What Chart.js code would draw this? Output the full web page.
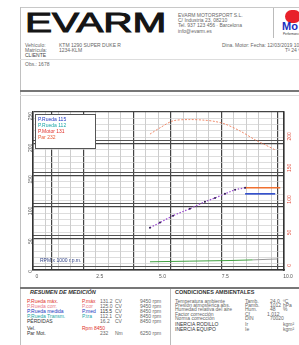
<!DOCTYPE html>
<html><head><meta charset="utf-8">
<script src="https://cdn.jsdelivr.net/npm/chart.js@4.4.1/dist/chart.umd.min.js"></script>
<style>
html,body{margin:0;padding:0;background:#fff;width:299px;height:345px;overflow:hidden;font-family:"Liberation Sans",Arial,sans-serif;}
.a{position:absolute;white-space:nowrap;font-size:5px;line-height:5px;color:#666;}
.l{position:absolute;}
#wrap{position:absolute;left:20px;top:96px;width:279px;height:190px;}
</style></head><body>
<div class="l" style="left:20px;top:7px;width:279px;height:1px;background:#c8c8c8"></div>
<div class="l" style="left:20px;top:7px;width:1px;height:338px;background:#c0c0c0"></div>
<div class="a" style="left:25px;top:9px;font-size:28px;line-height:28px;font-weight:normal;color:#151515;transform:scaleX(1.45);transform-origin:0 0;-webkit-text-stroke:1px #151515">EVARM</div>
<div class="a" style="left:178px;top:13px">EVARM MOTORSPORT S.L.</div>
<div class="a" style="left:178px;top:18px">C/ Industria 23, 08210</div>
<div class="a" style="left:178px;top:23px">Tel. 937 123 456 · Barcelona</div>
<div class="a" style="left:178px;top:29px">info@evarm.es</div>
<div class="l" style="left:273px;top:8px;width:1px;height:30px;background:#bbb"></div>
<div class="l" style="left:285px;top:10px;width:16px;height:13px;background:#e8202a;border-radius:7px"></div>
<div class="a" style="left:282px;top:21px;font-size:11px;line-height:11px;font-weight:bold;color:#1a2fc0">Mo</div>
<div class="a" style="left:283px;top:33px;font-size:3px;line-height:3px;color:#333">Performance</div>
<div class="a" style="left:25px;top:43px">Vehículo:</div>
<div class="a" style="left:59px;top:43px">KTM 1290 SUPER DUKE R</div>
<div class="a" style="left:25px;top:48px">Matrícula:</div>
<div class="a" style="left:59px;top:48px">1234-KLM</div>
<div class="a" style="left:25px;top:53px;color:#444">CLIENTE</div>
<div class="a" style="left:222px;top:43px">Dina. Motor: Fecha: 12/03/2019 10:3</div>
<div class="a" style="left:285px;top:48px">Tª 24 ºC</div>
<div class="l" style="left:20px;top:59px;width:279px;height:1px;background:#ddd"></div>
<div class="a" style="left:25px;top:62px">Obs.: 1678</div>
<div class="l" style="left:20px;top:90px;width:279px;height:2px;background:#777"></div>
<div class="l" style="left:20px;top:95px;width:279px;height:1px;background:#ddd"></div>

<div id="wrap"><canvas id="c" width="279" height="190"></canvas></div>

<div class="l" style="left:35px;top:114px;width:59px;height:33px;background:#fff;border:1px solid #555"></div>
<div class="a" style="left:38px;top:117px;color:#2036c0">P.Rueda  115</div>
<div class="a" style="left:38px;top:123px;color:#1aa6a6">P.Rueda  112</div>
<div class="a" style="left:38px;top:129px;color:#e0302a">P.Motor  131</div>
<div class="a" style="left:38px;top:135px;color:#e8603a">Par  232</div>
<div class="a" style="left:40px;top:258px;color:#334488">RPM x 1000 r.p.m.</div>

<div class="l" style="left:20px;top:287px;width:279px;height:2px;background:#777"></div>
<div class="l" style="left:170px;top:289px;width:1px;height:56px;background:#bbb"></div>
<div class="a" style="left:30px;top:290px;font-size:5.5px;font-weight:bold;font-style:italic;color:#333">RESUMEN DE MEDICIÓN</div>
<div class="a" style="left:175px;top:290px;font-size:5.5px;font-weight:bold;color:#333">CONDICIONES AMBIENTALES</div>

<div class="a" style="left:27px;top:299px;color:#e0302a">P.Rueda máx.</div>
<div class="a" style="left:27px;top:304px;color:#e87a8a">P.Rueda corr.</div>
<div class="a" style="left:27px;top:309px;color:#2036c0">P.Rueda medida</div>
<div class="a" style="left:27px;top:314px;color:#1aa6a6">P.Rueda Transm.</div>
<div class="a" style="left:27px;top:319px;color:#333">PÉRDIDAS</div>
<div class="a" style="left:27px;top:326px;color:#333">Vel.</div>
<div class="a" style="left:27px;top:331px;color:#333">Par Mot.</div>
<div class="a" style="left:82px;top:299px;color:#e0302a">P.máx</div>
<div class="a" style="left:82px;top:304px;color:#e87a8a">P.cor</div>
<div class="a" style="left:82px;top:309px;color:#2036c0">P.med</div>
<div class="a" style="left:82px;top:314px;color:#1aa6a6">P.tra</div>
<div class="a" style="left:82px;top:326px;color:#e0302a">Rpm 8450</div>
<div class="a" style="left:100px;top:299px">131.2</div>
<div class="a" style="left:100px;top:304px">125.0</div>
<div class="a" style="left:100px;top:309px;color:#333">115.5</div>
<div class="a" style="left:100px;top:314px">112.1</div>
<div class="a" style="left:100px;top:319px">16.2</div>
<div class="a" style="left:100px;top:331px">232</div>
<div class="a" style="left:115px;top:299px">CV</div>
<div class="a" style="left:115px;top:304px">CV</div>
<div class="a" style="left:115px;top:309px">CV</div>
<div class="a" style="left:115px;top:314px">CV</div>
<div class="a" style="left:115px;top:319px">CV</div>
<div class="a" style="left:115px;top:331px">Nm</div>
<div class="a" style="left:140px;top:299px">9450 rpm</div>
<div class="a" style="left:140px;top:304px">9450 rpm</div>
<div class="a" style="left:140px;top:309px">8450 rpm</div>
<div class="a" style="left:140px;top:314px">8450 rpm</div>
<div class="a" style="left:140px;top:319px">8450 rpm</div>
<div class="a" style="left:140px;top:331px">6250 rpm</div>

<div class="a" style="left:175px;top:299px">Temperatura ambiente</div>
<div class="a" style="left:175px;top:303px">Presión atmosférica abs.</div>
<div class="a" style="left:175px;top:307px">Humedad relativa del aire</div>
<div class="a" style="left:175px;top:312px">Factor corrección</div>
<div class="a" style="left:175px;top:316px">Norma corrección</div>
<div class="a" style="left:175px;top:322px;color:#333">INERCIA RODILLO</div>
<div class="a" style="left:175px;top:327px;color:#333">INERCIA EQUIPO</div>
<div class="a" style="left:245px;top:299px">Tamb.</div>
<div class="a" style="left:245px;top:303px">Pamb.</div>
<div class="a" style="left:245px;top:307px">Hum.</div>
<div class="a" style="left:245px;top:312px">Cf</div>
<div class="a" style="left:245px;top:316px">DIN</div>
<div class="a" style="left:245px;top:322px">Ir</div>
<div class="a" style="left:245px;top:327px">Ie</div>
<div class="a" style="left:270px;top:299px">24.0</div>
<div class="a" style="left:270px;top:303px">1012</div>
<div class="a" style="left:270px;top:307px">48</div>
<div class="a" style="left:267px;top:312px">1.012</div>
<div class="a" style="left:270px;top:316px">70020</div>
<div class="a" style="left:283px;top:299px">ºC</div>
<div class="a" style="left:283px;top:303px">hPa</div>
<div class="a" style="left:283px;top:307px">%</div>
<div class="a" style="left:283px;top:322px">kgm²</div>
<div class="a" style="left:283px;top:327px">kgm²</div>

<script>
// ---- data ----
const xTickLabels = ['0', '2.5', '5.0', '7.5', '10.0'];
const torqueRpm  = [4660, 5060, 5580, 6250, 6850, 7250, 7650, 8250, 8850, 9250, 9650];
const torqueVals = [210, 220, 231, 233, 232, 230, 226, 215, 201, 193, 185];
const powerRpm   = [4660, 5060, 5580, 6250, 6850, 7250, 7650, 8050, 8450];
const powerVals  = [62, 70, 81, 92, 103, 109, 115.5, 122, 125];
const maxPowerRpm  = [8450, 9850];
const maxPowerVals = [125, 125];
const wheelRpm  = [8450, 9650];
const wheelVals = [115.5, 115.5];
const lossRpm   = [4660, 6250, 7850, 8750];
const lossVals  = [8, 9, 10, 11];
const lossEndRpm  = [8750, 9750];
const lossEndVals = [11, 12.5];
const leftTickLabels  = ['0', '50', '100', '150', '200', '250'];
const rightTickLabels = ['0', '50', '100', '150', '200', '250'];

const pts = (xs, ys) => xs.map((x, i) => ({x, y: ys[i]}));
const darkX = [750, 2000, 4000, 5500, 7500, 9750];

new Chart(document.getElementById('c'), {
  type: 'line',
  data: { datasets: [
    {data: pts(torqueRpm, torqueVals), yAxisID: 'yP', borderColor: '#f08a6a', borderWidth: 1, borderDash: [2, 1.5], pointRadius: 0, tension: 0.3},
    {data: pts(powerRpm, powerVals), yAxisID: 'yP', borderColor: '#9a4ad0', borderWidth: 1.2, borderDash: [1.5, 1.5], pointRadius: 1, pointBackgroundColor: '#302050', pointBorderWidth: 0, tension: 0.2},
    {data: pts(maxPowerRpm, maxPowerVals), yAxisID: 'yP', borderColor: '#f07030', borderWidth: 1.5, pointRadius: 0},
    {data: pts(wheelRpm, wheelVals), yAxisID: 'yP', borderColor: '#2040c8', borderWidth: 1.5, pointRadius: 0},
    {data: pts(lossRpm, lossVals), yAxisID: 'yP', borderColor: '#40a040', borderWidth: 1, pointRadius: 0},
    {data: pts(lossEndRpm, lossEndVals), yAxisID: 'yP', borderColor: '#999', borderWidth: 1, pointRadius: 0}
  ]},
  options: {
    responsive: false, animation: false,
    layout: {padding: {top: 16, left: 0, right: 0, bottom: 0}},
    plugins: {legend: {display: false}, tooltip: {enabled: false}},
    scales: {
      x: {type: 'linear', min: 0, max: 10000,
        afterFit: s => { s.height = 16; },
        border: {color: '#333', width: 1.5},
        grid: {drawTicks: false,
          color: c => darkX.includes(c.tick.value) ? '#444' : (c.tick.value % 500 === 0 ? '#c0c0c0' : 'rgba(0,0,0,0)'),
          lineWidth: c => darkX.includes(c.tick.value) ? 1.2 : 0.8},
        ticks: {stepSize: 250, autoSkip: false, maxRotation: 0, padding: 4, labelOffset: 4, color: '#555', font: {size: 5},
          callback: v => v % 2500 === 0 ? xTickLabels[v / 2500] : ''}
      },
      yT: {position: 'left', min: 0, max: 250,
        afterFit: s => { s.width = 13; },
        border: {color: '#333', width: 1.5},
        grid: {drawTicks: false,
          color: c => c.tick.value % 50 === 0 ? '#444' : '#cfcfcf',
          lineWidth: c => c.tick.value % 50 === 0 ? 1.2 : 0.7},
        ticks: {stepSize: 10, autoSkip: false, minRotation: 90, maxRotation: 90, padding: 2, color: '#555', font: {size: 5},
          callback: v => v % 50 === 0 ? leftTickLabels[v / 50] : ''}
      },
      yP: {position: 'right', min: -5, max: 245,
        afterFit: s => { s.width = 15; },
        border: {color: '#333', width: 1.5},
        grid: {drawTicks: false,
          color: c => c.tick.value % 50 === 0 ? '#555' : 'rgba(0,0,0,0)',
          lineWidth: 1},
        ticks: {stepSize: 5, autoSkip: false, minRotation: 90, maxRotation: 90, padding: 6, color: '#e05040', font: {size: 5},
          callback: v => v % 50 === 0 ? rightTickLabels[v / 50] : ''}
      }
    }
  }
});
</script>
</body></html>
